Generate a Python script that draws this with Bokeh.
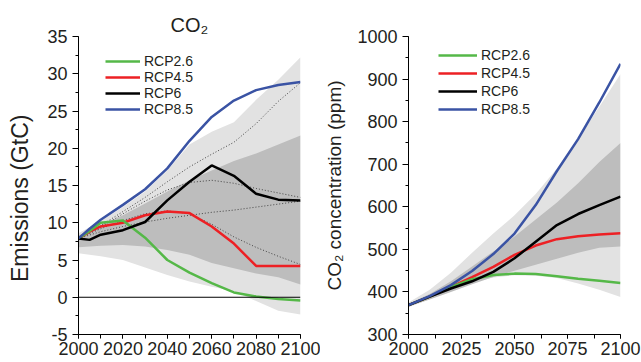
from bokeh.plotting import figure
from bokeh.layouts import row
from bokeh.models import (Legend, LegendItem, Span, Range1d, SingleIntervalTicker,
                          PrintfTickFormatter)
from bokeh.embed import file_html
from bokeh.resources import INLINE

# ---------------- data: emissions (GtC) ----------------
years_e = [2000, 2005, 2010, 2020, 2030, 2040, 2050, 2060, 2070, 2080, 2090, 2100]
rcp26_e = [7.9, 8.9, 10.0, 10.3, 8.0, 5.0, 3.3, 1.9, 0.65, 0.1, -0.25, -0.43]
rcp45_e = [7.9, 8.8, 9.5, 10.0, 11.0, 11.5, 11.3, 9.5, 7.2, 4.2, 4.2, 4.2]
rcp6_e = [7.9, 7.7, 8.4, 9.0, 10.1, 13.0, 15.5, 17.7, 16.3, 13.9, 13.1, 13.0]
rcp85_e = [7.9, 9.2, 10.4, 12.4, 14.5, 17.3, 21.0, 24.2, 26.4, 27.8, 28.5, 28.9]

years_b = [2000, 2010, 2020, 2030, 2040, 2050, 2060, 2070, 2080, 2090, 2100]
light_hi_e = [8.6, 10.2, 12.1, 14.2, 17.0, 20.5, 22.2, 23.5, 26.5, 29.2, 32.2]
light_lo_e = [5.9, 5.5, 5.0, 4.0, 3.0, 2.1, 1.4, 0.8, -0.5, -1.8, -2.3]
dark_hi_e = [8.3, 9.7, 11.0, 12.6, 14.2, 15.7, 17.0, 18.3, 19.3, 20.5, 21.7]
dark_lo_e = [6.7, 6.9, 7.0, 6.8, 6.35, 5.7, 4.6, 3.9, 3.2, 2.7, 1.7]

dot1_e = [7.9, 9.6, 11.5, 13.4, 15.5, 17.5, 19.2, 20.8, 23.3, 26.3, 28.8]
dot2_e = [7.9, 9.4, 11.2, 12.9, 14.4, 15.4, 15.7, 15.3, 14.6, 14.0, 13.4]
dot3_e = [7.9, 8.8, 9.5, 10.1, 10.6, 11.0, 11.4, 11.7, 12.1, 12.5, 12.9]
dot4_e = [7.9, 9.2, 10.3, 11.2, 11.6, 11.2, 9.8, 8.1, 6.7, 5.5, 4.4]

# ---------------- data: concentration (ppm) ----------------
years_c = [2000, 2010, 2020, 2030, 2040, 2050, 2060, 2070, 2080, 2090, 2100]
rcp26_c = [369, 389, 412, 430, 440, 443, 442, 437, 431, 426, 421]
rcp45_c = [369, 389, 412, 435, 459, 487, 509, 524, 531, 535, 538]
rcp6_c = [369, 389, 408, 425, 447, 479, 518, 557, 583, 604, 624]
rcp85_c = [369, 390, 416, 449, 489, 537, 604, 684, 759, 845, 936]

light_hi_c = [375, 405, 445, 492, 537, 580, 630, 690, 760, 835, 912]
light_lo_c = [364, 383, 403, 422, 434, 439, 438, 433, 420, 405, 388]
dark_hi_c = [372, 395, 425, 460, 495, 530, 570, 610, 655, 705, 750]
dark_lo_c = [366, 382, 400, 418, 435, 450, 464, 478, 492, 504, 507]

labels = ["RCP2.6", "RCP4.5", "RCP6", "RCP8.5"]
colors = ["#55B848", "#ED2024", "#000000", "#3A53A4"]

FONT = "Liberation Sans"
LIGHT = "#E2E2E2"
DARK = "#BDBDBD"


def style_axes(p, xint, yint):
    p.xaxis.ticker = SingleIntervalTicker(interval=xint, num_minor_ticks=2)
    p.yaxis.ticker = SingleIntervalTicker(interval=yint, num_minor_ticks=2)
    p.yaxis.formatter = PrintfTickFormatter(format="%d")
    p.xaxis.formatter = PrintfTickFormatter(format="%d")
    for ax in (p.xaxis, p.yaxis):
        ax.axis_line_color = "black"
        ax.major_tick_line_color = "black"
        ax.minor_tick_line_color = "black"
        ax.major_label_text_font = FONT
        ax.major_label_text_font_size = "18px"
        ax.major_label_text_color = "#231F20"
        ax.axis_label_text_font = FONT
        ax.axis_label_text_font_style = "normal"
        ax.axis_label_text_color = "#231F20"
        ax.major_tick_in = 0
        ax.minor_tick_in = 0
    p.xaxis.major_tick_out = 4
    p.xaxis.minor_tick_out = 4
    p.xaxis.major_label_standoff = 3
    p.yaxis.major_tick_out = 6
    p.yaxis.minor_tick_out = 3
    p.yaxis.major_label_standoff = 5
    p.xgrid.visible = False
    p.ygrid.visible = False
    p.outline_line_color = None


def make_legend(p, renderers, loc, row_h, glyph_w):
    items = [LegendItem(label=l, renderers=[r]) for l, r in zip(labels, renderers)]
    leg = Legend(items=items, location=loc, glyph_width=glyph_w, glyph_height=row_h,
                 label_height=row_h, label_standoff=4, spacing=0, padding=0, margin=0,
                 border_line_alpha=0, background_fill_alpha=0,
                 label_text_font=FONT, label_text_font_size="14px",
                 label_text_color="#231F20")
    p.add_layout(leg)


# ---------------- left panel ----------------
p1 = figure(width=320, height=362, output_backend="svg", toolbar_location=None,
            x_range=Range1d(2000, 2100), y_range=Range1d(-5, 35),
            min_border_left=78, min_border_right=20, min_border_top=36, min_border_bottom=27,
            title="CO₂")
p1.title.text_font = FONT
p1.title.text_font_size = "20px"
p1.title.text_font_style = "normal"
p1.title.align = "center"
p1.title.standoff = 1
p1.title.text_color = "#231F20"

p1.varea(x=years_b, y1=light_lo_e, y2=light_hi_e, fill_color=LIGHT)
p1.varea(x=years_b, y1=dark_lo_e, y2=dark_hi_e, fill_color=DARK)
for d in (dot1_e, dot2_e, dot3_e, dot4_e):
    p1.line(years_b, d, line_color="#444444", line_width=1, line_dash="1 2")
p1.add_layout(Span(location=0, dimension="width", line_color="black", line_width=1))

r_e = {}
for key, ys, c in ((1, rcp45_e, colors[1]), (0, rcp26_e, colors[0]),
                   (2, rcp6_e, colors[2]), (3, rcp85_e, colors[3])):
    r_e[key] = p1.line(years_e, ys, line_color=c, line_width=2.5)

style_axes(p1, 20, 5)
p1.yaxis.axis_label = "Emissions (GtC)\u00a0\u00a0\u00a0\u00a0"
p1.yaxis.axis_label_text_font_size = "23px"
p1.yaxis.axis_label_standoff = 11
make_legend(p1, [r_e[0], r_e[1], r_e[2], r_e[3]], (27, 217), 16, 35)

# ---------------- right panel ----------------
p2 = figure(width=321, height=362, output_backend="svg", toolbar_location=None,
            x_range=Range1d(2000, 2100), y_range=Range1d(300, 1000),
            min_border_left=88, min_border_right=21, min_border_top=36, min_border_bottom=28)

p2.varea(x=years_c, y1=light_lo_c, y2=light_hi_c, fill_color=LIGHT)
p2.varea(x=years_c, y1=dark_lo_c, y2=dark_hi_c, fill_color=DARK)
r_c = {}
for key, ys, c in ((1, rcp45_c, colors[1]), (0, rcp26_c, colors[0]),
                   (2, rcp6_c, colors[2]), (3, rcp85_c, colors[3])):
    r_c[key] = p2.line(years_c, ys, line_color=c, line_width=2.5)

style_axes(p2, 25, 100)
p2.yaxis.axis_label = "CO₂ concentration (ppm)"
p2.yaxis.axis_label_text_font_size = "19px"
p2.yaxis.axis_label_standoff = 9
make_legend(p2, [r_c[0], r_c[1], r_c[2], r_c[3]], (30, 216), 18, 39)

layout = row(p1, p2)
open("out.html", "w").write(file_html(layout, INLINE))
